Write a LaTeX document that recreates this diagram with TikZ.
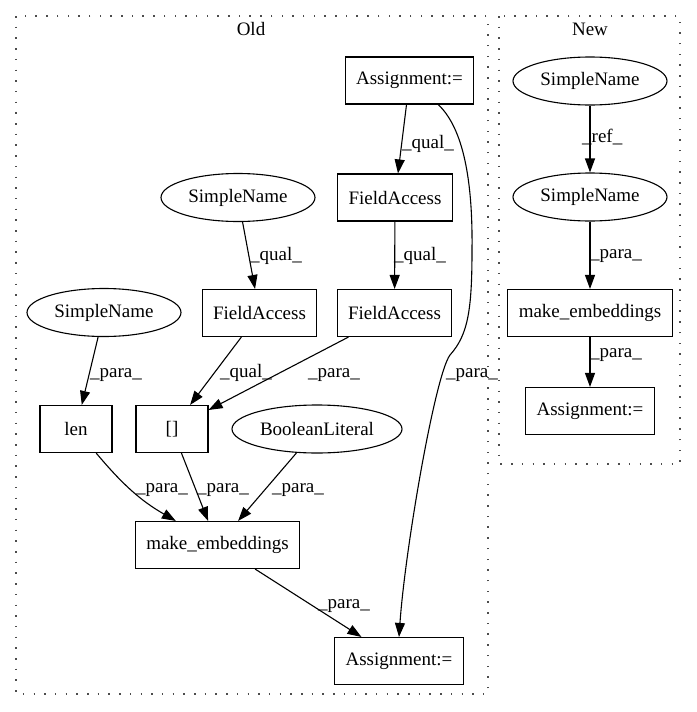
\documentclass[tikz,border=0pt]{standalone}
\usepackage{fontspec}
\setmainfont{Liberation Serif}
\usetikzlibrary{arrows.meta,shapes.geometric}

\begin{document}
\begin{tikzpicture}[x=1pt,y=1pt,
	every node/.style={font=\fontsize{19}{23}\selectfont},
	box/.style={draw, line width=1.1pt, rectangle, minimum height=47pt, minimum width=72pt, inner xsep=11pt},
	oval/.style={draw, line width=1.1pt, ellipse, inner sep=0pt, minimum height=48pt, minimum width=154pt},
	lbl/.style={anchor=base west, inner sep=0pt},
	cluster/.style={line width=1.3pt, dash pattern=on 1.5pt off 9.2pt, black!70},
	arr/.style={line width=1.1pt, -{Triangle[length=14pt,width=10pt]}}]
	
	\useasboundingbox (0,0) rectangle (696,-712);
	
	\draw[cluster] (16,-16) rectangle (488,-694);
	\draw[cluster] (499,-16) rectangle (680,-464);
	\node[anchor=base] (titleOld) at (251,-35) {Old};
	\node[anchor=base] (titleNew) at (590,-35) {New};
	
     \node[box] (asgTop) at (409.5,-80.5) {Assignment:=};
      \node[box] (faTop) at (395,-197.5) {FieldAccess};
       \node[oval] (snMid) at (238,-197.5) {SimpleName};
        \node[box] (faMid) at (259.5,-313) {FieldAccess};
         \node[box] (faRight) at (394.5,-313) {FieldAccess};
          \node[oval] (snLeft) at (104,-312.5) {SimpleName};
           \node[box] (len) at (76,-429) {len};
            \node[box] (idx) at (172,-429) {[]};
             \node[oval, minimum width=170pt] (bool) at (317,-429) {BooleanLiteral};
              \node[box] (mkOld) at (217.5,-545) {make\_embeddings};
               \node[box] (asgBot) at (399,-661) {Assignment:=};
      
      \node[oval] (snTopN) at (590,-81) {SimpleName};
      \node[oval] (snN) at (590,-197) {SimpleName};
      \node[box] (mkN) at (590,-313) {make\_embeddings};
      \node[box] (asgN) at (590,-411) {Assignment:=};
    
    \draw[arr] (asgTop) -- (faTop);
    \draw[arr] (faTop) -- (faRight);
    \draw[arr] (snMid) -- (faMid);
    \draw[arr] (snLeft) -- (len);
    \draw[arr] (faMid) -- (idx);
    \draw[arr] (faRight) -- (idx);
    \draw[arr] (len) to[out=-50,in=150] (mkOld);
    \draw[arr] (idx) -- (mkOld);
    \draw[arr] (bool) -- (mkOld);
    \draw[arr] (mkOld) -- (asgBot);
    \draw[arr] (asgTop.-40) .. controls (460,-125) and (473,-170) .. (472,-250)
      .. controls (472,-310) and (468,-335) .. (450,-355)
      .. controls (435,-375) and (405,-550) .. (asgBot.north);
    
    \draw[arr] (snTopN) -- (snN);
    \draw[arr] (snN) -- (mkN);
    \draw[arr] (mkN) -- (asgN);
    
    \node[lbl] (l1) at (402,-148) {\_qual\_};
     \node[lbl] (l2) at (250,-260) {\_qual\_};
      \node[lbl] (l3) at (394,-260) {\_qual\_};
       \node[lbl] (l4) at (90,-377) {\_para\_};
        \node[lbl] (l5) at (220,-377) {\_qual\_};
         \node[lbl] (l6) at (308,-377) {\_para\_};
          \node[lbl] (l7) at (446,-377) {\_para\_};
           \node[lbl] (l8) at (136,-492) {\_para\_};
            \node[lbl] (l9) at (197,-492) {\_para\_};
             \node[lbl] (l10) at (272,-492) {\_para\_};
              \node[lbl] (l11) at (318,-608) {\_para\_};
     
     \node[lbl] (l12) at (582,-142) {\_ref\_};
      \node[lbl] (l13) at (590,-258) {\_para\_};
       \node[lbl] (l14) at (590,-357) {\_para\_};
    
\end{tikzpicture}
\end{document}
